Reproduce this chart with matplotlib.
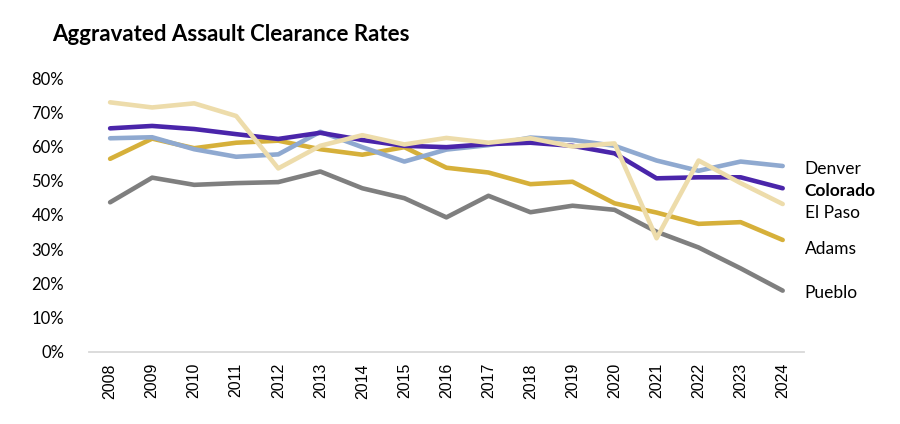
import numpy as np
import matplotlib
matplotlib.use("Agg")
import matplotlib.pyplot as plt

years = [str(y) for y in range(2008, 2025)]

colorado = [65.3, 66.0, 65.1, 63.6, 62.2, 64.0, 61.9, 60.2, 59.8, 60.7, 61.1, 60.2, 58.0, 50.7, 51.0, 51.0, 47.8]
denver = [62.4, 62.7, 59.2, 57.0, 57.7, 64.3, 59.8, 55.6, 59.1, 60.4, 62.6, 61.9, 60.2, 55.9, 52.9, 55.6, 54.3]
el_paso = [72.9, 71.4, 72.6, 68.9, 53.6, 60.2, 63.3, 60.6, 62.5, 61.1, 62.4, 60.0, 60.9, 33.2, 55.9, 49.3, 43.2]
adams = [56.4, 62.3, 59.5, 61.1, 61.7, 59.2, 57.6, 59.8, 53.8, 52.4, 49.0, 49.7, 43.4, 40.7, 37.4, 37.9, 32.7]
pueblo = [43.7, 50.9, 48.8, 49.3, 49.6, 52.7, 47.8, 44.9, 39.3, 45.6, 40.8, 42.7, 41.5, 35.1, 30.5, 24.4, 17.9]

series = [
    ("Pueblo", pueblo, "#7f7f7f"),
    ("Adams", adams, "#d6b03a"),
    ("Denver", denver, "#8fa9d0"),
    ("Colorado", colorado, "#4a25aa"),
    ("El Paso", el_paso, "#eddcab"),
]
label_y = {"Denver": 53.3, "Colorado": 46.9, "El Paso": 40.5, "Adams": 30.0, "Pueblo": 17.1}

fig = plt.figure(figsize=(9, 4.24), dpi=100)
ax = fig.add_axes([0.099, 0.17, 0.794, 0.646])
x = np.arange(len(years))

for name, vals, col in series:
    ax.plot(x, vals, color=col, lw=3.3, solid_capstyle="round", solid_joinstyle="round")

for name, vals, col in series:
    ax.text(len(years) - 0.5 + 0.02, label_y[name], name, fontsize=12.5, family="Lato",
            fontweight="bold" if name == "Colorado" else "normal", va="center", ha="left",
            clip_on=False)

ax.set_xlim(-0.5, len(years) - 0.5)
ax.set_ylim(0, 80)
ax.set_xticks(x)
ax.set_xticklabels(years, rotation=90, fontsize=11.5, family="Liberation Sans")
ax.set_yticks(np.arange(0, 81, 10))
ax.set_yticklabels([f"{v}%" for v in range(0, 81, 10)], fontsize=12, family="Lato")
ax.tick_params(length=0, pad=8)
ax.tick_params(axis="y", pad=18)
for s in ["top", "right", "left"]:
    ax.spines[s].set_visible(False)
ax.spines["bottom"].set_color("#d9d9d9")
ax.spines["bottom"].set_linewidth(1.3)

fig.text(0.058, 0.918, "Aggravated Assault Clearance Rates", fontsize=16, fontweight="bold",
         family="Lato", va="center")

fig.savefig("out.png", dpi=100)
